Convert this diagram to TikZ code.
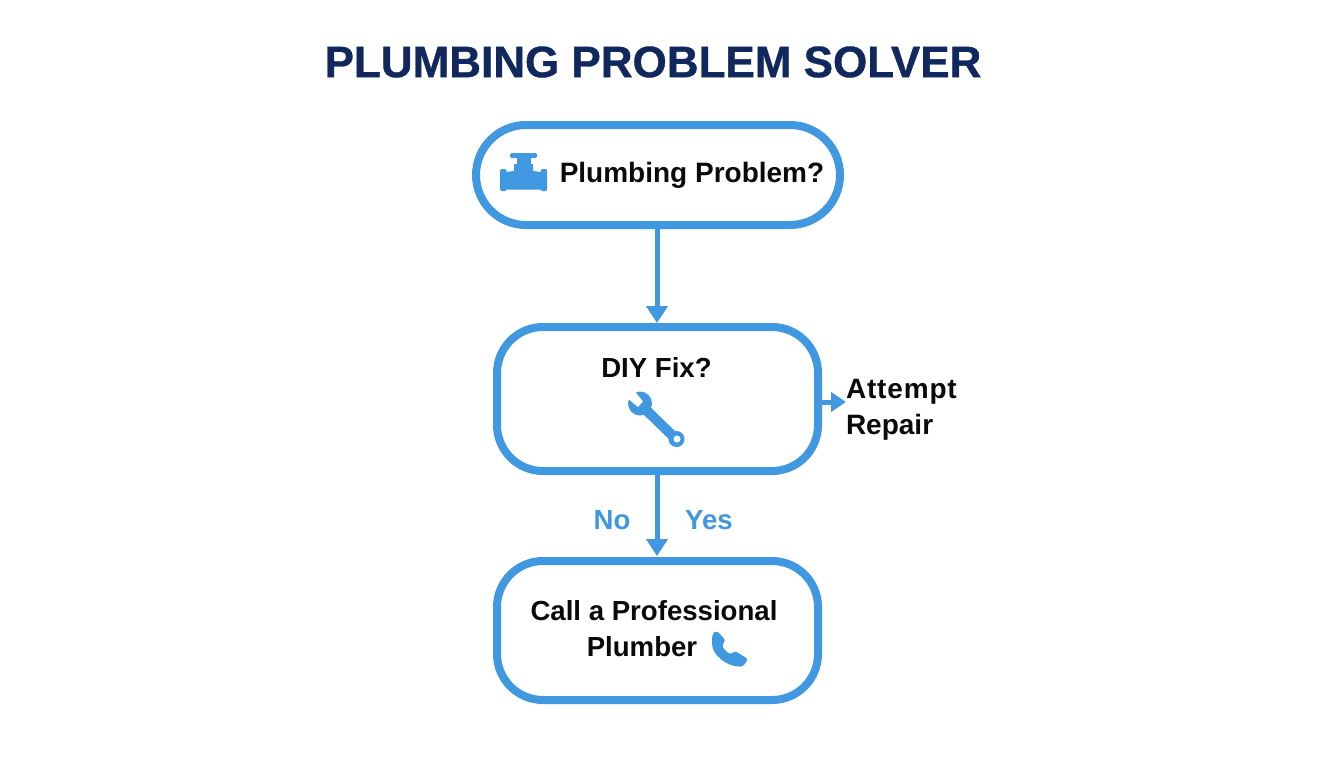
\documentclass[tikz,border=0pt]{standalone}
\usepackage{fontspec}
\setmainfont{Liberation Sans}
\newfontfamily\titlefont[BoldFont={Liberation Sans Bold},BoldFeatures={FakeBold=0.8}]{Liberation Sans}
\usetikzlibrary{arrows.meta}
\definecolor{pipeblue}{HTML}{3F98E0}
\definecolor{navy}{HTML}{11285E}
\definecolor{ink}{HTML}{0A0A0A}
\tikzset{
  x=1pt,y=-1pt,
  flowbox/.style={draw=pipeblue,line width=8pt,fill=white,inner sep=0pt,outer sep=0pt},
  flowarrow/.style={draw=pipeblue,line width=5pt,-{Triangle[length=17pt,width=21pt]}},
  label/.style={font=\fontsize{27.6}{36}\selectfont\bfseries,text=ink,inner sep=0pt,outer sep=0pt},
  branch/.style={font=\fontsize{27.6}{36}\selectfont\bfseries,text=pipeblue,inner sep=0pt},
  icon/.style={fill=pipeblue,draw=none}
}
\begin{document}
\begin{tikzpicture}
\useasboundingbox[fill=white] (0,0) rectangle (1344,768);
\node[inner sep=0pt,text=navy,font=\titlefont\fontsize{44}{50}\selectfont\bfseries] (title) at (653,62) {PLUMBING PROBLEM SOLVER};
\node[flowbox,rounded corners=50pt,minimum width=364pt,minimum height=100pt] (start) at (658,175) {};
\node[flowbox,rounded corners=46pt,minimum width=321pt,minimum height=144pt] (diy) at (657.5,399) {};
\node[flowbox,rounded corners=46pt,minimum width=321pt,minimum height=139pt] (call) at (657.5,630.5) {};
\node[label,font=\fontsize{28}{36}\selectfont\bfseries] (q1) at (692,175) {Plumbing Problem?};
\node[label] (q2) at (656.5,367) {DIY Fix?};
\node[label,align=left,anchor=west,font=\fontsize{28}{36}\selectfont\bfseries] (attempt) at (846,410) {\addfontfeature{LetterSpace=3}Attempt\\Repair};
\node[label,align=center] (pro) at (654,628.5) {Call a Professional\\Plumber\hspace*{24pt}};
\node[branch] (no) at (612,520) {No};
\node[branch] (yes) at (709,520) {Yes};
\draw[flowarrow,shorten >=4pt] (start.south -| 657,0) -- (diy.north -| 657,0);
\draw[flowarrow,shorten >=5pt] (diy.south -| 657,0) -- (call.north -| 657,0);
\draw[flowarrow,-{Triangle[length=15pt,width=19pt]}] ([yshift=-3pt]diy.east) -- ([yshift=8pt]attempt.west);
% pipe icon
\fill[icon,rounded corners=1.5pt] (500,169) rectangle (506.5,191);
\fill[icon,rounded corners=1.5pt] (540.5,169) rectangle (547,191);
\fill[icon] (505,172) -- (514,171) -- (514,164) -- (533,164) -- (533,171) -- (542,172) -- (542,189.5) -- (505,189.5) -- cycle;
\fill[icon] (517,156) rectangle (531,165);
\fill[icon,rounded corners=1.5pt] (510,153) rectangle (537,158);
% wrench icon
\fill[icon] (640,403.5) circle[radius=12];
\draw[pipeblue,line width=10pt] (641,405) -- (676,439);
\fill[icon] (676.5,439) circle[radius=8];
\fill[white] (677,439) circle[radius=3.5];
\fill[white] (626,397) -- (633,389) -- (643,401.5) -- (638,407) -- cycle;
% phone icon
\fill[icon,rounded corners=2.5pt] (712,641) .. controls (712,636) and (714,632) .. (717,631)
  -- (725.5,640) -- (722,645.5) .. controls (724,649) and (727,652) .. (730.5,654.5)
  -- (735,651) -- (748,659) -- (743,666.5) .. controls (727,667) and (712,655) .. (712,641) -- cycle;
\end{tikzpicture}
\end{document}
